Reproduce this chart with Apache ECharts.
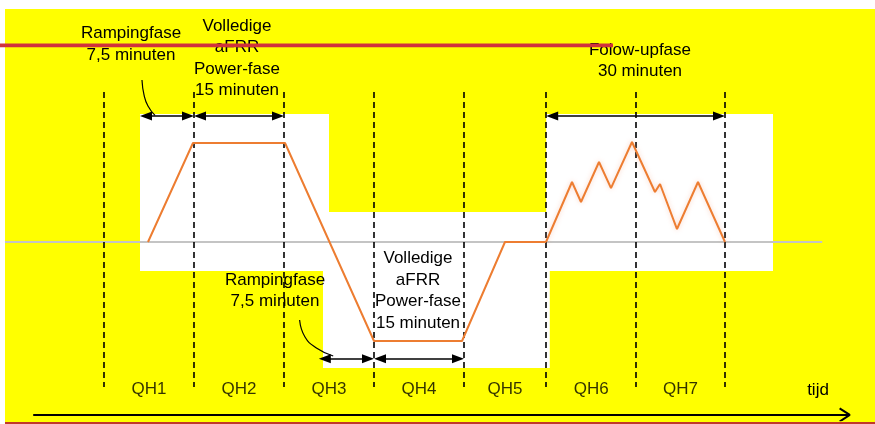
<!DOCTYPE html>
<html><head><meta charset="utf-8">
<script src="https://cdn.jsdelivr.net/npm/echarts@6/dist/echarts.min.js"></script>
<style>html,body{margin:0;padding:0;background:#fff}#c{width:875px;height:424px}</style>
</head><body><div id="c"></div>
<script>
// ---- data (x: minutes from start of QH1, y: % of full aFRR power) ----
const qhBounds = [0, 15, 30, 45, 60, 73.7, 88.7, 103.5];
const qhLabels = ['QH1', 'QH2', 'QH3', 'QH4', 'QH5', 'QH6', 'QH7'];
const rampProfile = [[7.33, 0], [14.83, 100], [30.17, 100], [45, -100], [59.67, -100], [66.83, 0], [73.67, 0]];
const followUpProfile = [[73.67, 0], [78, 60.6], [79.5, 40.4], [82.5, 80.8], [84.5, 54.5], [88, 101], [91.83, 50.5], [92.67, 58.6], [95.5, 13.1], [99, 60.6], [103.5, 0]];
const baseline = [[-16.5, 0], [119.7, 0]];
// phase spans [start, end, level]
const phaseSpans = [[6, 15, 127.3], [15, 30, 127.3], [73.7, 103.5, 127.3], [35.8, 45, -118], [45, 60, -118]];
// leader curves
const topLeader = [[6.33, 163.6], [6.67, 148.5], [7.33, 137.4], [8.5, 127.9]];
const bottomLeader = [[32.6, -78.8], [33.5, -96], [35.4, -107], [38.2, -115.2]];
// shaded zones [x0, x1, y0, y1]
const whiteZones = [[6, 111.5, 129.3, -29.3], [36.5, 74.3, -29.3, -127.3]];
const cutZones = [[37.5, 73.7, 129.3, 30.3]];
const timeArrow = [[-11.8, -174.7], [124.3, -174.7]];
const timeHead = [[122.6, -168], [124.3, -174.7], [122.6, -181.4]];
const dashRange = [151.5, -146.5];

const font = "'Liberation Sans', Arial, sans-serif";
const FS = 17;
const chart = echarts.init(document.getElementById('c'), null, {renderer: 'canvas'});
const inset = 1;

const zoneData = [];
whiteZones.forEach(z => zoneData.push([{coord: [z[0], z[2]], itemStyle: {color: '#ffffff'}}, {coord: [z[1], z[3]]}]));
cutZones.forEach(z => zoneData.push([{coord: [z[0], z[2]], itemStyle: {color: '#ffff00'}}, {coord: [z[1], z[3]]}]));

const dashData = qhBounds.map(b => [{coord: [b, dashRange[0]]}, {coord: [b, dashRange[1]]}]);
const spanData = phaseSpans.map(s => [{coord: [s[0] + inset, s[2]]}, {coord: [s[1] - inset, s[2]]}]);
const qhPts = qhLabels.map((l, i) => [(qhBounds[i] + qhBounds[i + 1]) / 2, -148.5, l]);

function txt(x, y, text, lh) {
  return {type: 'text', x: x, y: y, z: 50, silent: true,
    style: {text: text, align: 'center', verticalAlign: 'middle', fontSize: FS, fontFamily: font, fill: '#000', lineHeight: lh || 21.5}};
}

chart.setOption({
  animation: false,
  backgroundColor: '#ffffff',
  grid: {left: 2, width: 870, top: 242 - 0.99 * 240, height: 0.99 * 420},
  xAxis: {type: 'value', min: -17, max: 128, show: false},
  yAxis: {type: 'value', min: -180, max: 240, show: false},
  graphic: [
    {type: 'rect', z: 0, shape: {x: 5, y: 9, width: 870, height: 413}, style: {fill: '#ffff00'}, silent: true},
    {type: 'rect', z: 0, shape: {x: 5, y: 422, width: 870, height: 2}, style: {fill: '#c0392b'}, silent: true},
    txt(131, 44, 'Rampingfase\n7,5 minuten', 22),
    txt(237, 58.5, 'Volledige\naFRR\nPower-fase\n15 minuten'),
    txt(640, 61, 'Folow-upfase\n30 minuten'),
    txt(275, 291, 'Rampingfase\n7,5 minuten'),
    txt(418, 291, 'Volledige\naFRR\nPower-fase\n15 minuten'),
    txt(818, 390, 'tijd'),
    {type: 'rect', z: 60, shape: {x: 0, y: 43.5, width: 613, height: 3.8}, style: {fill: '#d0323c'}, silent: true}
  ],
  series: [
    {type: 'line', data: [], silent: true, z: 1,
      markArea: {silent: true, data: zoneData}},
    {type: 'line', data: baseline, symbol: 'none', silent: true, z: 2,
      lineStyle: {color: '#c4c4c4', width: 2}},
    {type: 'line', data: [], silent: true, z: 3,
      markLine: {silent: true, symbol: ['none', 'none'], label: {show: false},
        lineStyle: {color: '#000', type: [6, 4], width: 1.6}, data: dashData}},
    {type: 'line', data: rampProfile, symbol: 'none', silent: true, z: 5,
      lineStyle: {color: '#ed7d31', width: 2}},
    {type: 'line', data: followUpProfile, symbol: 'none', silent: true, z: 5,
      lineStyle: {color: '#ed7d31', width: 2, shadowBlur: 5, shadowColor: 'rgba(240,140,100,0.4)'}},
    {type: 'line', data: [], silent: true, z: 6,
      markLine: {silent: true, symbol: ['triangle', 'triangle'], symbolSize: [9, 12], label: {show: false},
        lineStyle: {color: '#000', type: 'solid', width: 1.6}, data: spanData}},
    {type: 'line', data: topLeader, smooth: true, symbol: 'none', silent: true, z: 6,
      lineStyle: {color: '#000', width: 1.2}},
    {type: 'line', data: bottomLeader, smooth: true, symbol: 'none', silent: true, z: 6,
      lineStyle: {color: '#000', width: 1.2}},
    {type: 'line', data: timeArrow, symbol: 'none', silent: true, z: 6,
      lineStyle: {color: '#000', width: 2}},
    {type: 'line', data: timeHead, symbol: 'none', silent: true, z: 6,
      lineStyle: {color: '#000', width: 2}},
    {type: 'scatter', data: qhPts, symbolSize: 0, silent: true, z: 7,
      label: {show: true, position: 'inside', formatter: p => p.data[2], fontSize: FS, fontFamily: font, color: '#000'}}
  ]
});
</script></body></html>
